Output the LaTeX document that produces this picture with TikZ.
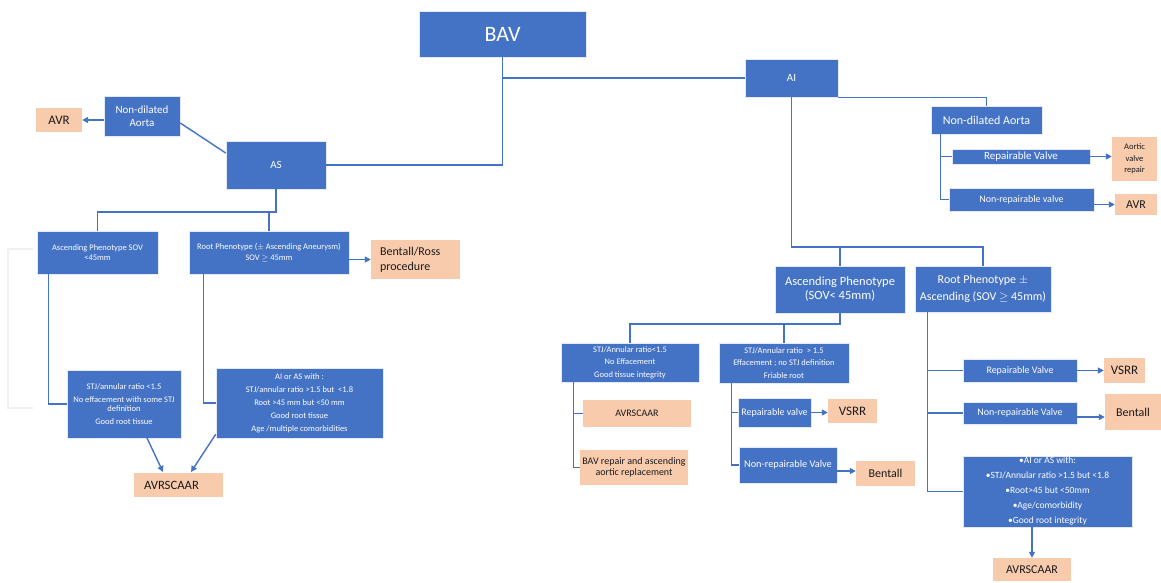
\documentclass[tikz,border=0pt]{standalone}
\usepackage{fontspec}
\setmainfont{Carlito}
\usetikzlibrary{arrows.meta}
\definecolor{bblue}{HTML}{4472C4}
\definecolor{peach}{HTML}{F8CBAD}
\definecolor{ink}{HTML}{1A1A1A}
\newcommand{\fs}[1]{\fontsize{#1}{#1}\selectfont}
\tikzset{
  bbox/.style={fill=bblue, draw=white!85!bblue, line width=0.6pt, text=white, inner sep=0pt, align=center},
  pbox/.style={fill=peach, draw=none, text=ink, inner sep=0pt, align=center},
  wh/.style 2 args={minimum width=#1pt, minimum height=#2pt},
  conn/.style={draw=bblue, line width=1.4pt},
  arr/.style={conn, -{Triangle[length=6pt,width=6pt]}},
}
\begin{document}
\begin{tikzpicture}[x=1pt,y=-1pt]
\useasboundingbox (0,0) rectangle (1161,582);
\fill[white] (0,0) rectangle (1161,582);

% ---------- nodes ----------
\node[bbox, wh={167}{46}, font=\fs{22}] (bav) at (502.5,34) {BAV};
\node[bbox, wh={93}{38}, font=\fs{11}] (ai) at (791.5,78) {AI};
\node[bbox, wh={100}{48}, font=\fs{11}] (as) at (276,165) {AS};
\node[bbox, wh={76}{40}, font=\fontsize{11}{13}\selectfont] (ndaL) at (142,116) {Non-dilated\\Aorta};
\node[pbox, wh={46}{24}, font=\fs{13}] (avrL) at (59,120) {AVR};
\node[bbox, wh={121}{43}, font=\fontsize{8.5}{10.5}\selectfont] (ascL) at (97.5,252.5) {Ascending Phenotype SOV\\<45mm};
\node[bbox, wh={160}{43}, font=\fontsize{8.5}{10.5}\selectfont] (rootL) at (269,252.5) {Root Phenotype ($\pm$ Ascending Aneurysm)\\SOV $\geq$ 45mm};
\node[pbox, wh={89}{39}, font=\fontsize{12}{15}\selectfont, align=left, text width=71pt] (bentallRoss) at (415.5,259.5) {Bentall/Ross\\procedure};
\node[bbox, wh={114}{68}, font=\fontsize{8.5}{9.5}\selectfont] (stjL) at (124,404) {STJ/annular ratio <1.5\\[3.5pt]No effacement with some STJ\\definition\\[3.5pt]Good root tissue};
\node[bbox, wh={167}{70}, font=\fontsize{8.5}{10}\selectfont] (aiasL) at (299.5,403) {AI or AS with :\\[3pt]STJ/annular ratio >1.5 but \ <1.8\\[3pt]Root >45 mm but <50 mm\\[3pt]Good root tissue\\[3pt]Age /multiple comorbidities};
\node[pbox, wh={89}{24}, font=\fs{12.7}, align=left, text width=69pt] (avrscaarL) at (178.5,485) {AVRSCAAR};

\node[bbox, wh={111}{28}, font=\fs{12}] (ndaR) at (986.5,120) {Non-dilated Aorta};
\node[bbox, wh={138}{15}, font=\fs{11}] (repR1) at (1021,156.5) {Repairable Valve};
\node[pbox, wh={45}{44}, font=\fontsize{8.5}{11.5}\selectfont] (aorticRepair) at (1134.5,159) {Aortic\\valve\\repair};
\node[bbox, wh={145}{23}, font=\fs{10}] (nonrepR1) at (1021.5,199.5) {Non-repairable valve};
\node[pbox, wh={42}{21}, font=\fs{12}] (avrR) at (1136,204.5) {AVR};

\node[bbox, wh={130}{47}, font=\fontsize{12.5}{14}\selectfont] (ascR) at (840,289.5) {Ascending Phenotype\\(SOV< 45mm)};
\node[bbox, wh={136}{46}, font=\fontsize{12}{17}\selectfont] (rootR) at (983,289) {Root Phenotype $\pm$\\Ascending (SOV $\geq$ 45mm)};

\node[bbox, wh={138}{39}, font=\fontsize{8.5}{10}\selectfont] (stjM1) at (630,362.5) {STJ/Annular ratio<1.5\\[2.5pt]No Effacement\\[2.5pt]Good tissue integrity};
\node[bbox, wh={130}{40}, font=\fontsize{8.5}{10}\selectfont] (stjM2) at (784,363) {STJ/Annular ratio \ > 1.5\\[2.5pt]Effacement ; no STJ definition\\[2.5pt]Friable root};
\node[pbox, wh={108}{27}, font=\fs{10}] (avrscaarM) at (637,413.5) {AVRSCAAR};
\node[pbox, wh={108}{35}, font=\fontsize{10}{11.5}\selectfont] (bavRepair) at (634,467.5) {BAV repair and ascending\\aortic replacement};
\node[bbox, wh={73}{29}, font=\fs{10}] (repM) at (774.5,412.5) {Repairable valve};
\node[pbox, wh={49}{24}, font=\fs{13}] (vsrrM) at (852.5,411) {VSRR};
\node[bbox, wh={98}{36}, font=\fs{10.3}] (nonrepM) at (788,465) {Non-repairable Valve};
\node[pbox, wh={59}{25}, font=\fs{12}] (bentallM) at (885.5,473.5) {Bentall};

\node[bbox, wh={114}{23}, font=\fs{10}] (repR2) at (1020,370.5) {Repairable Valve};
\node[pbox, wh={41}{25}, font=\fs{13}] (vsrrR) at (1124.5,370.5) {VSRR};
\node[bbox, wh={114}{22}, font=\fs{10}] (nonrepR2) at (1020,413) {Non-repairable Valve};
\node[pbox, wh={56}{36}, font=\fs{12}] (bentallR) at (1133,412) {Bentall};
\node[bbox, wh={169}{71}, font=\fontsize{9.5}{11}\selectfont] (bulletsR) at (1047.5,491.5) {•AI or AS with:\\[4pt]•STJ/Annular ratio >1.5 but <1.8\\[4pt]•Root>45 but <50mm\\[4pt]•Age/comorbidity\\[4pt]•Good root integrity};
\node[pbox, wh={78}{23}, font=\fs{12}] (avrscaarR) at (1032,569.5) {AVRSCAAR};

% ---------- connectors ----------
\draw[conn] (bav.south) |- (as.east);
\draw[conn] (bav.south |- ai.west) -- (ai.west);
\draw[conn] (ai.south east) -| (ndaR.north);
\coordinate (aiJ) at (791.5,247);
\draw[conn] (ai.south) -- (aiJ) -| (rootR.north);
\draw[conn] (ascR.north) -- (ascR.north |- aiJ);

% left branch
\draw[conn] ([yshift=-7pt]ndaL.east) -- ([yshift=12pt]as.west);
\draw[arr] (ndaL.west |- avrL.east) -- (avrL.east);
\coordinate (asJ) at (276,212);
\draw[conn] (as.south) -- (asJ) -| (ascL.north);
\draw[conn] (rootL.north) -- (rootL.north |- asJ);
\draw[arr] (rootL.east |- bentallRoss.west) -- (bentallRoss.west);
\draw[draw=gray!12, line width=2.5pt] (33,249) -- (8,249) -- (8,408) -- (33,408);
\draw[conn] ([xshift=12pt]ascL.south west) |- (stjL.west);
\draw[conn] ([xshift=15pt]rootL.south west) |- (aiasL.west);
\draw[arr] (147,438) -- (163,472);
\draw[arr] (aiasL.south west) ++(0,-4) -- (191,472);

% right upper
\draw[conn] ([xshift=10pt]ndaR.south west) |- (repR1.west);
\draw[conn] ([xshift=10pt]ndaR.south west) |- (nonrepR1.west);
\draw[arr] (repR1.east) -- (repR1.east -| aorticRepair.west);
\draw[arr] (nonrepR1.east |- avrR.west) -- (avrR.west);

% middle
\coordinate (ascJ) at (840,324);
\draw[conn] (ascR.south) -- (ascJ) -| (stjM1.north);
\draw[conn] (stjM2.north) -- (stjM2.north |- ascJ);
\draw[conn] ([xshift=13pt]stjM1.south west) |- (avrscaarM.west);
\draw[conn] ([xshift=13pt]stjM1.south west) |- (bavRepair.west);
\draw[conn] ([xshift=13pt]stjM2.south west) |- (repM.west);
\draw[conn] ([xshift=13pt]stjM2.south west) |- (nonrepM.west);
\draw[arr] (repM.east) -- (repM.east -| vsrrM.west);
\draw[arr] ([yshift=-6pt]nonrepM.east) -- ([yshift=-6pt]nonrepM.east -| bentallM.west);

% right lower
\draw[conn] ([xshift=13pt]rootR.south west) |- (repR2.west);
\draw[conn] ([xshift=13pt]rootR.south west) |- (nonrepR2.west);
\draw[conn] ([xshift=13pt]rootR.south west) |- (bulletsR.west);
\draw[arr] (repR2.east) -- (repR2.east -| vsrrR.west);
\draw[arr] ([yshift=-4pt]nonrepR2.east) -- ([yshift=-4pt]nonrepR2.east -| bentallR.west);
\draw[arr] (bulletsR.south -| avrscaarR.north) -- (avrscaarR.north);
\end{tikzpicture}
\end{document}
